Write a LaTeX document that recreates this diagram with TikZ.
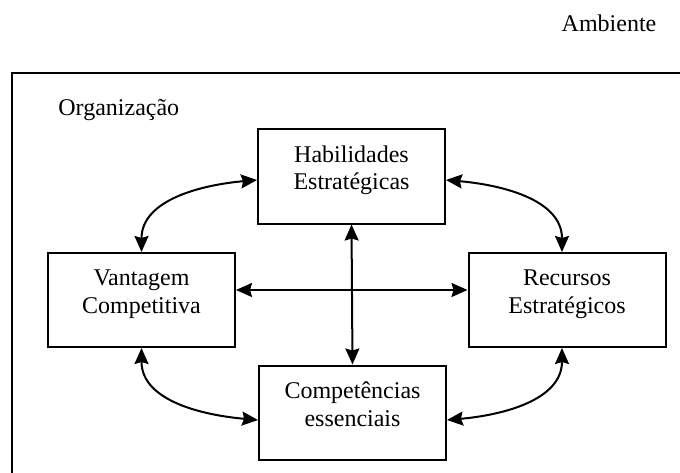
\documentclass[tikz,border=0pt]{standalone}
\usepackage{fontspec}
\setmainfont{Liberation Serif}
\usetikzlibrary{arrows.meta}

\begin{document}
\begin{tikzpicture}[x=0.5pt, y=0.5pt, >={Stealth[length=8pt, width=7pt, inset=1pt]},
  font=\fontsize{12}{14}\selectfont,
  caixa/.style={draw, line width=1pt, align=center, inner sep=0pt,
    minimum width=93.5pt, minimum height=47pt, text height=22.5pt, text depth=9pt},
  liga/.style={<->, line width=1pt}]
  \clip (0, 0) rectangle (680, 472);
  % ambiente e organizacao
  \draw[line width=1pt] (12, -20) -- (12, 399) -- (700, 399);
  \node (amb) at (609, 449) {Ambiente};
  \node[anchor=west, inner sep=0pt] (org) at (58, 362) {Organização};
  % as quatro caixas
  \node[caixa] (hab) at (351.5, 295.5) {Habilidades\\Estratégicas};
  \node[caixa] (van) at (141.5, 172) {Vantagem\\Competitiva};
  \node[caixa, minimum width=98.5pt] (rec) at (567, 172) {Recursos\\Estratégicos};
  \node[caixa] (com) at (352.5, 59.5) {Competências\\essenciais};
  % ligacoes
  \draw[liga] (hab.south) -- (com.north);
  \draw[liga] ([yshift=5pt]van.east) -- ([yshift=5pt]rec.west);
  \draw[liga] ([yshift=-1.75pt]hab.west) to[out=185, in=90] (van.north);
  \draw[liga] ([yshift=-1.75pt]hab.east) to[out=-5, in=90] ([xshift=-2.5pt]rec.north);
  \draw[liga] (van.south) to[out=-90, in=175] ([yshift=-3.75pt]com.west);
  \draw[liga] ([xshift=-2.5pt]rec.south) to[out=-90, in=5] ([yshift=-3.75pt]com.east);
\end{tikzpicture}
\end{document}
